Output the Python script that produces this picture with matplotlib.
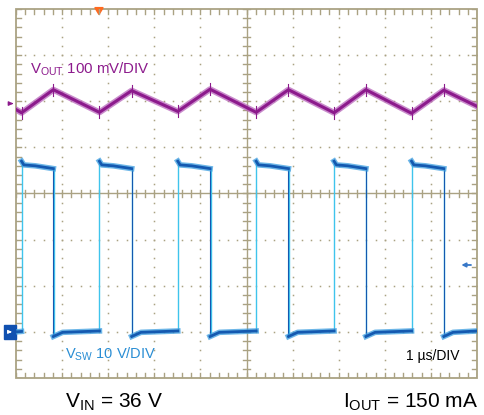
import matplotlib
matplotlib.use("Agg")
import matplotlib.pyplot as plt
from matplotlib.patches import Rectangle, Polygon

plt.rcParams['font.family'] = ['Liberation Sans', 'DejaVu Sans']
plt.rcParams['mathtext.fontset'] = 'custom'
plt.rcParams['mathtext.rm'] = 'Liberation Sans'

# Scope settings (divisions)
time_per_div = 1.0          # us/DIV
ch1_scale = 100.0           # mV/DIV  (VOUT, AC)
ch2_scale = 10.0            # V/DIV   (VSW)
ch1_offset = 1.95           # div
ch2_offset = -3.0           # div
trigger_time = 1.80         # us
trigger_level = 14.5        # V

# VOUT ripple, corner points (us, mV)
vout_t = [0.0, 0.12, 0.81, 1.81, 2.51, 3.51, 4.21, 5.21, 5.91, 6.90, 7.59, 8.58, 9.28, 10.0]
vout_mv = [-13, -20, 30, -19, 28, -17, 31, -19, 30, -20, 30, -21, 29, -6]

# VSW switching edges (us) and levels (V)
sw_rise = [0.12, 1.81, 3.51, 5.21, 6.90, 8.58]
sw_fall = [0.81, 2.51, 4.21, 5.91, 7.59, 9.28]
sw_overshoot = 37.0
sw_high_start = 36.2
sw_high_end = 35.4
sw_low_start = -1.0
sw_low_mid = -0.1
sw_low_end = 0.2

grid_col = '#aaa283'
purple = '#8c1a8c'
blue_dark = '#1459b0'
blue_light = '#3fc4ec'

fig = plt.figure(figsize=(4.84, 4.15), dpi=100)
ax = fig.add_axes([16 / 484, 37 / 415, 461 / 484, 369 / 415])
ax.set_xlim(0, 10)
ax.set_ylim(-4, 4)
ax.axis('off')

# graticule
minor = [i * 0.2 for i in range(51)]
minor_y = [-4 + i * 0.2 for i in range(41)]
for x in range(1, 10):
    if x == 5:
        continue
    ax.plot([x] * len(minor_y), minor_y, ls='none', marker='s', ms=1.1, color=grid_col, mew=0)
for y in range(-3, 4):
    if y == 0:
        continue
    ax.plot(minor, [y] * len(minor), ls='none', marker='s', ms=1.1, color=grid_col, mew=0)
ax.plot([5, 5], [-4, 4], color=grid_col, lw=1.0)
ax.plot([0, 10], [0, 0], color=grid_col, lw=1.0)
for x in minor:
    ax.plot([x, x], [-0.075, 0.075], color=grid_col, lw=1.0)
    ax.plot([x, x], [4, 3.9], color=grid_col, lw=1.0)
    ax.plot([x, x], [-4, -3.9], color=grid_col, lw=1.0)
for y in minor_y:
    ax.plot([4.925, 5.075], [y, y], color=grid_col, lw=1.0)
    ax.plot([0, 0.1], [y, y], color=grid_col, lw=1.0)
    ax.plot([10, 9.9], [y, y], color=grid_col, lw=1.0)
ax.add_patch(Rectangle((0, -4), 10, 8, fill=False, ec=grid_col, lw=1.3, clip_on=False))

# VOUT trace
vy = [ch1_offset + v / ch1_scale for v in vout_mv]
ax.plot(vout_t, vy, color='#b866bb', lw=4.4, alpha=0.75)
ax.plot(vout_t, vy, color=purple, lw=2.2)
for t in sw_rise + sw_fall:
    i = min(range(len(vout_t)), key=lambda k: abs(vout_t[k] - t))
    ax.plot([t, t], [vy[i] - 0.13, vy[i] + 0.13], color=purple, lw=0.8)

# VSW trace
def sw(v):
    return ch2_offset + v / ch2_scale

low_t = [0.0] + sw_fall
low_end = sw_rise + [10.0]
for tr, tf in zip(sw_rise, sw_fall):
    # edges
    ax.plot([tr, tr], [sw(sw_low_end), sw(sw_overshoot)], color=blue_light, lw=1.0)
    ax.plot([tf + 0.01, tf + 0.01], [sw(sw_high_end), sw(sw_low_start)], color=blue_light, lw=1.0)
    ax.plot([tf, tf], [sw(sw_high_end), sw(sw_low_start)], color=blue_dark, lw=0.8)
    # high plateau
    ht = [tr, tr + 0.05, tr + 0.3, tf]
    hv = [sw(sw_overshoot), sw(sw_high_start), sw(sw_high_start - 0.2), sw(sw_high_end)]
    ax.plot(ht, hv, color='#3c9ee0', lw=4.0, alpha=0.75)
    ax.plot(ht, hv, color=blue_dark, lw=2.0)
for k, (a, b) in enumerate(zip(low_t, low_end)):
    if k == 0:
        lt, lv = [a, b], [sw(0.0), sw(0.1)]
    else:
        lt = [a, a + 0.2, b]
        lv = [sw(sw_low_start), sw(sw_low_mid), sw(sw_low_end)]
    ax.plot(lt, lv, color='#3c9ee0', lw=4.0, alpha=0.75)
    ax.plot(lt, lv, color=blue_dark, lw=2.0)

# channel / trigger markers
ax.annotate('', xy=(0, ch1_offset), xytext=(-0.17, ch1_offset),
            arrowprops=dict(arrowstyle='-|>', color=purple, lw=1.0, mutation_scale=6),
            annotation_clip=False)
ax.add_patch(Rectangle((-0.25, ch2_offset - 0.15), 0.25, 0.3, color='#1050b0', clip_on=False))
ax.annotate('', xy=(-0.03, ch2_offset), xytext=(-0.2, ch2_offset),
            arrowprops=dict(arrowstyle='-|>', color='white', lw=0.9, mutation_scale=5),
            annotation_clip=False)
ax.annotate('', xy=(9.6, sw(trigger_level)), xytext=(9.93, sw(trigger_level)),
            arrowprops=dict(arrowstyle='-|>', color='#3878c8', lw=1.3, mutation_scale=6),
            annotation_clip=False)
ax.add_patch(Polygon([(trigger_time - 0.09, 4.03), (trigger_time + 0.09, 4.03),
                      (trigger_time, 3.88)], color='#ff6a1f', clip_on=False))

# labels
ax.text(0.3, 2.6, r'$\mathregular{V_{OUT}}$ 100 mV/DIV', color=purple, fontsize=10.8,
        va='baseline')
ax.text(1.06, -3.57, r'$\mathregular{V_{SW}}$ 10 V/DIV', color='#2a8ed4', fontsize=10.5,
        va='baseline')
ax.text(9.63, -3.6, '1 \u00b5s/DIV', color='black', fontsize=10, va='baseline', ha='right')
fig.text(65 / 484, 1 - 408 / 415, r'$\mathregular{V_{IN}}$ = 36 V', fontsize=15, va='baseline')
fig.text(343 / 484, 1 - 408 / 415, r'$\mathregular{I_{OUT}}$ = 150 mA', fontsize=15, va='baseline')

fig.savefig('out.png', dpi=100, facecolor='white')
